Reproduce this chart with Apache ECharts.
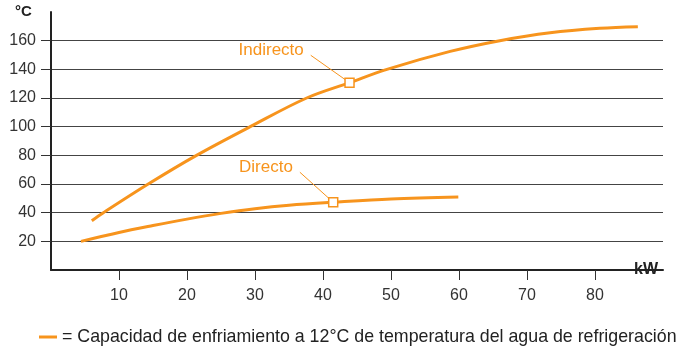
<!DOCTYPE html>
<html>
<head>
<meta charset="utf-8">
<script src="https://cdn.jsdelivr.net/npm/echarts@6/dist/echarts.min.js"></script>
<style>
  html, body { margin: 0; padding: 0; background: #fff; }
  #chart-panel { width: 685px; height: 349px; }
</style>
</head>
<body>
<div id="chart-panel"></div>
<script>
// curve readings (kW, °C)
var indirectoKW = [6.0, 7.7, 14.3, 21.4, 29.3, 37.6, 43.9, 49.4, 58.7, 66.0, 73.4, 80.7, 86.3];
var indirectoC  = [34.4, 40, 60, 80, 100, 120, 130.7, 140, 152.5, 160, 165.5, 168.6, 169.7];
var directoKW = [4.4, 10, 15, 20, 25, 30, 35, 41.5, 50, 59.9];
var directoC  = [20, 26.2, 31, 35.5, 39.5, 42.8, 45.2, 47.3, 49.6, 51];

// markers on the curves and where their captions sit
var indirectoMark = [43.9, 130.7];
var indirectoCaption = [38.2, 149.8];
var directoMark = [41.5, 47.3];
var directoCaption = [36.6, 68.2];

var xTicks = [10, 20, 30, 40, 50, 60, 70, 80];
var yTicks = [20, 40, 60, 80, 100, 120, 140, 160];

var legendText = '= Capacidad de enfriamiento a 12°C de temperatura del agua de refrigeración';

var orange = '#F7941D';
var font = '"Liberation Sans", Arial, Helvetica, sans-serif';

function pairs(xs, ys) {
    var out = [];
    for (var i = 0; i < xs.length; i++) {
        out.push([xs[i], ys[i]]);
    }
    return out;
}

// square marker + thin leader + caption
function annotate(name, mark, caption) {
    return {
        markPoint: {
            silent: true,
            animation: false,
            data: [{
                coord: mark,
                symbol: 'rect',
                symbolSize: 9,
                itemStyle: { color: '#fff', borderColor: orange, borderWidth: 1.5 },
                label: { show: false }
            }, {
                coord: caption,
                symbol: 'circle',
                symbolSize: 0,
                label: {
                    show: true,
                    position: 'left',
                    distance: 7,
                    offset: [0, -4.5],
                    formatter: name,
                    color: orange,
                    fontSize: 17,
                    fontFamily: font
                }
            }]
        },
        markLine: {
            silent: true,
            animation: false,
            symbol: 'none',
            label: { show: false },
            lineStyle: { color: orange, width: 1, type: 'solid' },
            data: [[{ coord: caption }, { coord: mark }]]
        }
    };
}

var chart = echarts.init(document.getElementById('chart-panel'));

var indirecto = {
    name: 'Indirecto',
    type: 'line',
    smooth: 0.35,
    showSymbol: false,
    symbol: 'none',
    lineStyle: { color: orange, width: 3 },
    itemStyle: { color: orange },
    data: pairs(indirectoKW, indirectoC)
};
Object.assign(indirecto, annotate('Indirecto', indirectoMark, indirectoCaption));

var directo = {
    name: 'Directo',
    type: 'line',
    smooth: 0.35,
    showSymbol: false,
    symbol: 'none',
    lineStyle: { color: orange, width: 3 },
    itemStyle: { color: orange },
    data: pairs(directoKW, directoC)
};
Object.assign(directo, annotate('Directo', directoMark, directoCaption));

var option = {
    backgroundColor: '#fff',
    animation: false,
    textStyle: { fontFamily: font },
    grid: { left: 51, right: 22, top: 12, bottom: 79 },
    legend: {
        data: ['Indirecto'],
        left: 34,
        top: 323,
        icon: 'rect',
        itemWidth: 18,
        itemHeight: 3,
        formatter: function() { return legendText; },
        textStyle: { color: '#222', fontSize: 17.8, fontFamily: font }
    },
    graphic: [{
        type: 'text',
        left: 15,
        top: 4,
        style: { text: '°C', fill: '#222', font: 'bold 15px ' + font }
    }],
    xAxis: {
        type: 'value',
        min: 0,
        max: 90,
        interval: 10,
        name: 'kW',
        nameLocation: 'end',
        nameGap: -31,
        nameTextStyle: {
            color: '#222',
            fontSize: 16,
            fontWeight: 'bold',
            backgroundColor: '#fff',
            padding: [7, 8, 0, 2]
        },
        axisLine: { show: true, lineStyle: { color: '#222', width: 2 } },
        axisTick: { show: true, customValues: xTicks, length: 10, lineStyle: { color: '#333', width: 1 } },
        axisLabel: { customValues: xTicks, margin: 18, color: '#333', fontSize: 16 },
        splitLine: { show: false }
    },
    yAxis: {
        type: 'value',
        min: 0,
        max: 180,
        interval: 20,
        axisLine: { show: true, lineStyle: { color: '#222', width: 2 } },
        axisTick: { show: true, customValues: yTicks, length: 10, lineStyle: { color: '#333', width: 1 } },
        axisLabel: { customValues: yTicks, margin: 15, color: '#333', fontSize: 16 },
        splitLine: { show: true, lineStyle: { color: '#444', width: 1 } }
    },
    series: [indirecto, directo]
};

chart.setOption(option);
</script>
</body>
</html>
